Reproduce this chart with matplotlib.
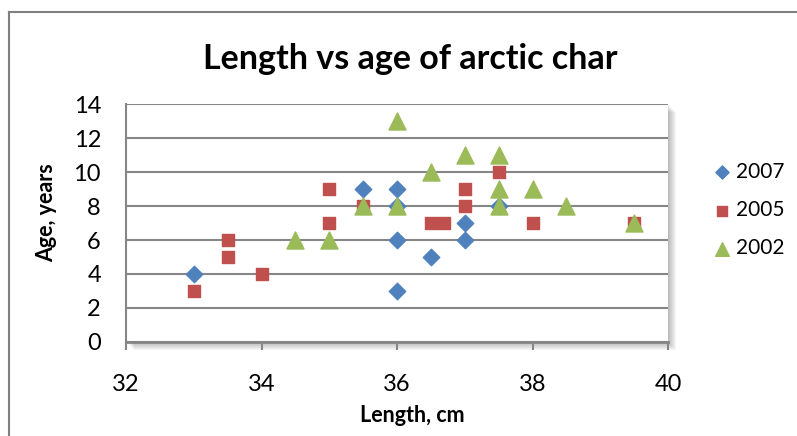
import matplotlib.pyplot as plt
from matplotlib.patches import Rectangle
from matplotlib.lines import Line2D

# length (cm) and age (years) per sampling year
len_2007 = [33, 35.5, 36, 36, 36, 36, 36.5, 37, 37, 37.5]
age_2007 = [4, 9, 9, 8, 6, 3, 5, 7, 6, 8]

len_2005 = [33, 33.5, 33.5, 34, 35, 35, 35.5, 36.5, 36.7, 37, 37, 37.5, 38, 39.5]
age_2005 = [3, 6, 5, 4, 9, 7, 8, 7, 7, 9, 8, 10, 7, 7]

len_2002 = [34.5, 35, 35.5, 36, 36, 36.5, 37, 37.5, 37.5, 37.5, 38, 38.5, 39.5]
age_2002 = [6, 6, 8, 13, 8, 10, 11, 11, 9, 8, 9, 8, 7]

plt.rcParams['font.family'] = ['Lato', 'DejaVu Sans']

W, H = 797, 436
fig = plt.figure(figsize=(W / 100, H / 100), dpi=100)

# outer chart frame (only top and left visible)
fig.add_artist(Line2D([9 / W, 9 / W], [0, 1 - 12 / H], transform=fig.transFigure,
                      color='#808080', lw=1.5))
fig.add_artist(Line2D([9 / W, 1], [1 - 12 / H, 1 - 12 / H], transform=fig.transFigure,
                      color='#808080', lw=1.5))

x0, x1, y0, y1 = 126, 668, 104, 342
ax = fig.add_axes([x0 / W, 1 - y1 / H, (x1 - x0) / W, (y1 - y0) / H])

# soft drop shadow to the right and below the plot area
for i in range(8):
    off = 1 + i
    fig.add_artist(Rectangle(((x0 + off) / W, 1 - (y1 + off) / H),
                             (x1 - x0) / W, (y1 - y0) / H,
                             transform=fig.transFigure, facecolor='black',
                             edgecolor='none', alpha=0.035, zorder=0))

ax.set_facecolor('white')
ax.set_zorder(1)

ax.scatter(len_2007, age_2007, marker='D', s=70, color='#4F81BD', label='2007', zorder=3)
ax.scatter(len_2005, age_2005, marker='s', s=75, color='#C0504D', label='2005', zorder=4)
ax.scatter(len_2002, age_2002, marker='^', s=150, color='#9BBB59', label='2002', zorder=5)

ax.set_xlim(32, 40)
ax.set_ylim(0, 14)
ax.set_xticks(range(32, 41, 2))
ax.set_yticks(range(0, 15, 2))
ax.grid(axis='y', color='#868686', lw=1.5)
ax.set_axisbelow(True)

for s in ['right', 'top']:
    ax.spines[s].set_visible(False)
ax.spines['left'].set_color('#868686')
ax.spines['left'].set_linewidth(1.5)
ax.spines['bottom'].set_color('#868686')
ax.spines['bottom'].set_linewidth(2)

ax.tick_params(axis='x', length=6, width=1.5, color='#868686', labelsize=17, pad=17)
ax.tick_params(axis='y', length=0, labelsize=17, pad=18)

fig.text(412 / W, 1 - 415 / H, 'Length, cm', ha='center', va='center',
         fontsize=15.5, fontweight='bold')
fig.text(47 / W, 1 - 213 / H, 'Age, years', ha='center', va='center',
         fontsize=15.5, fontweight='bold', rotation=90)

fig.text(410 / W, 1 - 59 / H, 'Length vs age of arctic char',
         ha='center', va='center', fontsize=24.5, fontweight='bold')

fig.legend(loc='center left', bbox_to_anchor=(712 / W, 1 - 210 / H), frameon=False,
           fontsize=15, handlelength=1, handletextpad=0.15, labelspacing=0.88,
           borderpad=0, borderaxespad=0, markerscale=0.8)

fig.savefig('out.png', dpi=100)
